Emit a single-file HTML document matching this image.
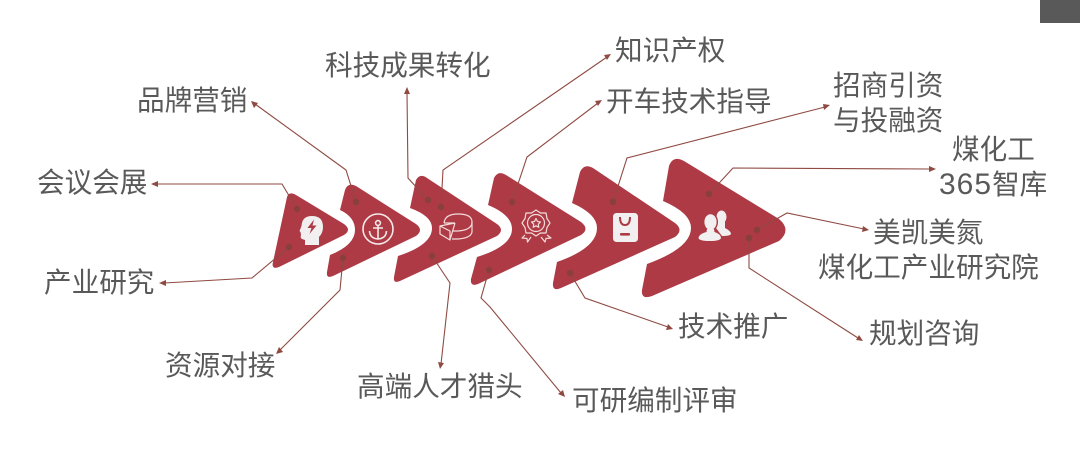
<!DOCTYPE html>
<html lang="zh">
<head>
<meta charset="utf-8">
<style>
html,body{margin:0;padding:0;background:#fff;width:1080px;height:457px;overflow:hidden}
svg{display:block}
text{font-family:"Liberation Sans","Noto Sans CJK SC",sans-serif;font-size:27.6px;fill:#595959}
.c{stroke:#8f4a42;stroke-width:1.1;fill:none}
.d{fill:#8a3f3f}
.h{fill:#8f4a42}
</style>
</head>
<body>
<svg width="1080" height="457" viewBox="0 0 1080 457" xmlns="http://www.w3.org/2000/svg">
<rect width="1080" height="457" fill="#fff"/>
<rect x="1040" y="0" width="40" height="23" fill="#595959"/>

<g fill="#ad3a45">
<path d="M287,197 Q289,191 296,195 L344,224 Q352,230 344,235 L279,267 Q271,270 273,262 Z"/>
<path d="M345,190 Q348,182 356,186 L416,224 Q424,230 416,236 L333,276 Q326,279 327,272 L330,255 Q355,245 355,230 Q355,217 340,210 Z"/>
<path d="M416,180 Q420,173 427,178 L497,224 Q505,230 497,236 L400,281 Q393,284 394,277 L398,256 Q432,245 432,228 Q432,216 410,208 Z"/>
<path d="M494,178 Q498,170 506,175 L581,222 Q590,229 581,235 L478,284 Q470,287 471,279 L477,257 Q512,246 512,229 Q512,215 488,205 Z"/>
<path d="M580,172 Q584,163 593,168 L675,223 Q684,230 675,237 L561,288 Q552,292 553,283 L557,262 Q597,248 597,228 Q597,214 572,203 Z"/>
<path d="M669,166 Q673,155 684,161 L779,219 Q792,230 779,241 L652,296 Q641,300 642,290 L647,264 Q691,248 691,228 Q691,213 663,201 Z"/>
</g>

<!-- connectors -->
<polyline class="c" points="156,184 282,184 297,209"/>
<polyline class="c" points="164,283 252,278 289,247"/>
<polyline class="c" points="255,104 346,170 356,202"/>
<polyline class="c" points="280,350 340,290 343,258"/>
<polyline class="c" points="407,92 408,178 428,200"/>
<polyline class="c" points="607,57 443,170 441,207"/>
<polyline class="c" points="441,364 450,283 432,256"/>
<polyline class="c" points="598,103 527,157 512,202"/>
<polyline class="c" points="561,393 490,307 481,298 489,270"/>
<polyline class="c" points="825,107 627,158 613,202"/>
<polyline class="c" points="668,327 585,298 570,273"/>
<polyline class="c" points="931,169 733,168 709,194"/>
<polyline class="c" points="864,229 787,213 757,230"/>
<polyline class="c" points="858,338 749,268 749,238"/>

<g class="d">
<circle cx="297" cy="209" r="3.2"/><circle cx="289" cy="247" r="3.2"/>
<circle cx="356" cy="202" r="3.2"/><circle cx="343" cy="258" r="3.2"/>
<circle cx="428" cy="200" r="3.2"/><circle cx="441" cy="207" r="3.2"/>
<circle cx="432" cy="256" r="3.2"/><circle cx="512" cy="202" r="3.2"/>
<circle cx="489" cy="270" r="3.2"/><circle cx="613" cy="202" r="3.2"/>
<circle cx="570" cy="273" r="3.2"/><circle cx="709" cy="194" r="3.2"/>
<circle cx="757" cy="230" r="3.2"/><circle cx="749" cy="238" r="3.2"/>
</g>

<!-- arrowheads -->
<g class="h">
<polygon points="151,184 158,181 158,187"/>
<polygon points="159,283 166,280 166,286"/>
<polygon points="251,101 258,103 254,108"/>
<polygon points="276,354 279,347 283,352"/>
<polygon points="407,87 410,94 404,94"/>
<polygon points="611,54 607,60 604,55"/>
<polygon points="440,369 438,362 444,363"/>
<polygon points="602,100 598,106 595,101"/>
<polygon points="565,397 558,394 563,390"/>
<polygon points="830,105 824,110 823,104"/>
<polygon points="673,329 666,330 668,324"/>
<polygon points="936,169 929,172 929,166"/>
<polygon points="869,230 862,232 863,226"/>
<polygon points="863,341 856,340 859,335"/>
</g>

<!-- labels -->
<text x="37" y="192">会议会展</text>
<text x="44" y="292">产业研究</text>
<text x="137" y="110">品牌营销</text>
<text x="165" y="375">资源对接</text>
<text x="325" y="75">科技成果转化</text>
<text x="357" y="396">高端人才猎头</text>
<text x="615" y="60">知识产权</text>
<text x="606" y="111">开车技术指导</text>
<text x="572" y="410">可研编制评审</text>
<text x="833" y="95">招商引资</text>
<text x="833" y="130">与投融资</text>
<text x="952" y="159">煤化工</text>
<text x="939" y="194"><tspan font-size="30" letter-spacing="1">365</tspan>智库</text>
<text x="873" y="242">美凯美氮</text>
<text x="818" y="277">煤化工产业研究院</text>
<text x="869" y="343">规划咨询</text>
<text x="678" y="336">技术推广</text>

<!-- icon 1: head -->
<path d="M305,245 L305,240 L302,239 Q300,238 301,235 L300.5,232 L299.5,231 L301.5,226 Q302,216 312,216 Q323,216 323,227 Q323,233 319,237 L319,245 Z" fill="#f1efef"/>
<path d="M314,219.5 L307.5,228 L311.5,228 L309.5,234 L316.5,225.5 L312.5,225.5 Z" fill="#ad3a45"/>

<!-- icon 2: anchor -->
<g fill="none" stroke="#f5e9e9" stroke-width="1.6">
<circle cx="378" cy="229" r="15"/>
<circle cx="378" cy="223" r="2.4"/>
<path d="M378,225.5 V239 M373,228 H383 M369.5,231 Q370,238.5 378,239 Q386,238.5 386.5,231"/>
</g>

<!-- icon 3: pie -->
<g fill="none" stroke="#f5dcdc" stroke-width="1.2" stroke-linejoin="round">
<path d="M444,223 Q445,214 458,214 Q472,214 472,222 Q472,230 458,231 L452,231"/>
<path d="M455,223 L444,223 M455,223 L440,226 L440,234 L450,240 L455,223 M440,226 L450,231 L450,240"/>
<path d="M472,222 V232 Q471,238 458,239 L452,239"/>
</g>

<!-- icon 4: medal -->
<g fill="none" stroke="#f5dcdc" stroke-width="1.2" stroke-linejoin="round">
<polygon points="536,210 540.5,213 546,213 547,218.5 550,223 547,227.5 546,233 540.5,233 536,236 531.5,233 526,233 525,227.5 522,223 525,218.5 526,213 531.5,213"/>
<circle cx="536" cy="223" r="8.5"/>
<polygon points="536,218.5 537.5,221.5 540.5,222 538.3,224.2 538.8,227.3 536,225.8 533.2,227.3 533.7,224.2 531.5,222 534.5,221.5"/>
<path d="M525,235 L522,238 L527,238.5 L527.5,242 L531,237 M547,235 L551,238 L546,238.5 L545,242 L541,237"/>
</g>

<!-- icon 5: tag -->
<rect x="613" y="213" width="25" height="29" rx="3.5" fill="#f1efef"/>
<path d="M620,217 Q620,225 625,225 Q630,225 630,217" fill="none" stroke="#ad3a45" stroke-width="2"/>
<rect x="620" y="233" width="10" height="2.6" rx="1" fill="#ad3a45"/>

<!-- icon 6: users -->
<g fill="#f1efef">
<ellipse cx="721.5" cy="217" rx="5" ry="6.5"/>
<path d="M718,222 H725 L725,228 Q731,231 731,234 Q730,236 722,236 L716,228 Z"/>
<g stroke="#ad3a45" stroke-width="1.4">
<ellipse cx="710.5" cy="222" rx="6.8" ry="8.5"/>
</g>
<path d="M707,229 H714 L714.5,232 Q721,234 721,238 Q720,241 710,241 Q699,241 698.5,238 Q699,234 706.5,232 Z"/>
</g>
</svg>
</body>
</html>
